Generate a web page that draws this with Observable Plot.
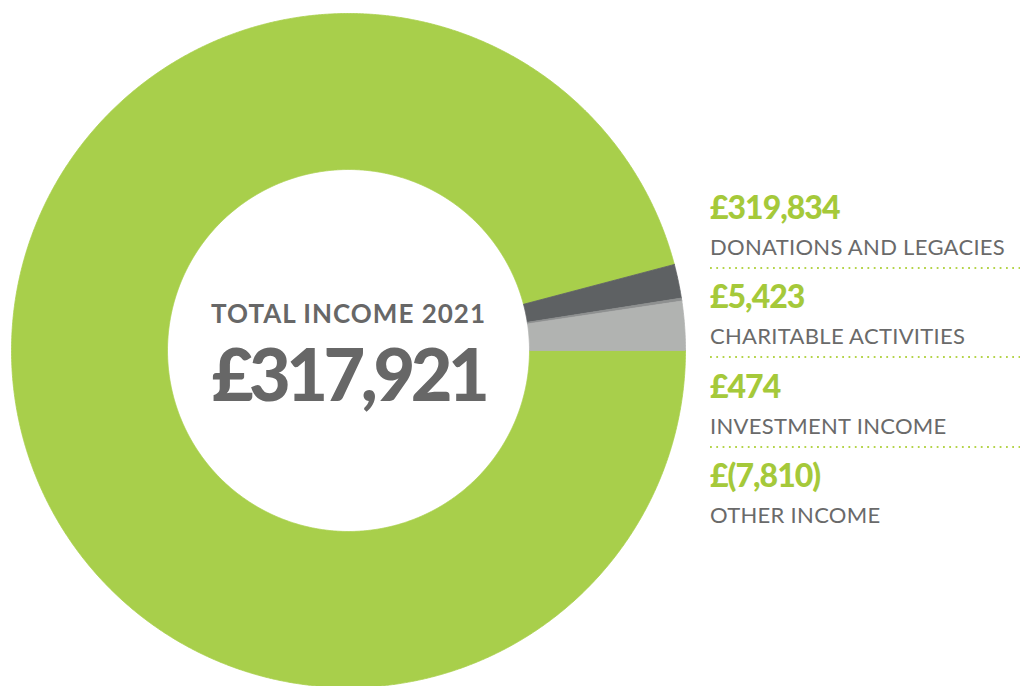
<!DOCTYPE html>
<html>
<head>
<meta charset="utf-8">
<script src="https://cdn.jsdelivr.net/npm/d3@7"></script>
<script src="https://cdn.jsdelivr.net/npm/@observablehq/plot@0.6"></script>
<style>
  html, body { margin: 0; padding: 0; background: #fff; }
  #wrap { position: relative; width: 1020px; height: 686px; overflow: hidden; font-family: Lato, "Open Sans", sans-serif; }
  #chart { position: absolute; left: 0; top: 0; }
  #legend { position: absolute; left: 710px; top: 0; width: 310px; height: 686px; }
  .item { position: absolute; left: 0; width: 310px; height: 90px; }
  .val { position: absolute; left: 0; font-size: 32px; font-weight: 900; color: #a5c93a; line-height: 1; letter-spacing: -1px; }
  .lab { position: absolute; left: 0; font-size: 22px; font-weight: 400; color: #6a6a6a; line-height: 1; letter-spacing: 0.3px; }
  .rule { position: absolute; left: 0; width: 310px; height: 2px;
          background-image: linear-gradient(to right, #b5d44a 2px, transparent 2px);
          background-size: 6.3px 2px; background-repeat: repeat-x; }
</style>
</head>
<body>
<div id="wrap">
  <div id="chart"></div>
  <div id="legend"></div>
</div>
<script>
// Income sources for the year
const categories = ["DONATIONS AND LEGACIES", "CHARITABLE ACTIVITIES", "INVESTMENT INCOME", "OTHER INCOME"];
const amounts = [319834, 5423, 474, -7810];
const valueLabels = ["£319,834", "£5,423", "£474", "£(7,810)"];
const sliceColors = ["#a8cf4b", "#5e6163", "#8e9090", "#b1b3b1"];
const totalTitle = "TOTAL INCOME 2021";
const totalLabel = "£317,921";

// Layout
const W = 700, H = 686;
const CX = 348, CY = 350;       // donut centre in pixels
const R_OUT = 337, R_IN = 181;  // radii in pixels

// Slice angles: each source sized by the magnitude of its amount,
// laid out clockwise starting from 3 o'clock
const rows = categories.map((c, i) => ({category: c, amount: amounts[i]}));
const arcs = d3.pie()
  .sort(null)
  .value(d => Math.abs(d.amount))
  .startAngle(Math.PI / 2)
  .endAngle(Math.PI / 2 + 2 * Math.PI)(rows);

// Outline of each ring segment: outer arc forward, inner arc back
const outline = [];
const step = Math.PI / 720;
for (const a of arcs) {
  const n = Math.max(2, Math.ceil((a.endAngle - a.startAngle) / step));
  const pts = [];
  for (let k = 0; k <= n; k++) {
    const t = a.startAngle + (a.endAngle - a.startAngle) * k / n;
    pts.push([R_OUT * Math.sin(t), R_OUT * Math.cos(t)]);
  }
  for (let k = n; k >= 0; k--) {
    const t = a.startAngle + (a.endAngle - a.startAngle) * k / n;
    pts.push([R_IN * Math.sin(t), R_IN * Math.cos(t)]);
  }
  pts.push(pts[0]);
  for (const [x, y] of pts) outline.push({category: a.data.category, x, y});
}

const chart = Plot.plot({
  width: W,
  height: H,
  margin: 0,
  x: {domain: [-CX, W - CX], axis: null},
  y: {domain: [-(H - CY), CY], axis: null},
  color: {domain: categories, range: sliceColors},
  style: {background: "transparent", overflow: "visible"},
  marks: [
    Plot.line(outline, {
      x: "x", y: "y", z: "category",
      fill: "category", stroke: "category", strokeWidth: 0.8,
      curve: "linear"
    }),
    Plot.text([totalTitle], {
      x: () => 0, y: () => 0, text: d => d,
      dy: -36, fontSize: 26, fontWeight: 700, fill: "#676767",
      fontFamily: "Lato, sans-serif"
    }),
    Plot.text([totalLabel], {
      x: () => 0, y: () => 0, text: d => d,
      dy: 27, fontSize: 72, fontWeight: 900, fill: "#676767",
      fontFamily: "Lato, sans-serif"
    })
  ]
});
// Letter spacing for the centre texts
const textGroups = chart.querySelectorAll('g[aria-label="text"]');
if (textGroups[0]) textGroups[0].style.letterSpacing = "1px";
if (textGroups[1]) textGroups[1].style.letterSpacing = "-4.5px";
document.getElementById("chart").appendChild(chart);

// Side legend with amounts and labels
const legend = document.getElementById("legend");
const PITCH = 89.4, TOP0 = 191;
categories.forEach((c, i) => {
  const item = document.createElement("div");
  item.className = "item";
  item.style.top = (TOP0 + i * PITCH) + "px";
  const v = document.createElement("div");
  v.className = "val";
  v.style.top = "0px";
  v.textContent = valueLabels[i];
  const l = document.createElement("div");
  l.className = "lab";
  l.style.top = "45px";
  l.textContent = c;
  item.appendChild(v);
  item.appendChild(l);
  if (i < categories.length - 1) {
    const r = document.createElement("div");
    r.className = "rule";
    r.style.top = "76px";
    item.appendChild(r);
  }
  legend.appendChild(item);
});
</script>
</body>
</html>
